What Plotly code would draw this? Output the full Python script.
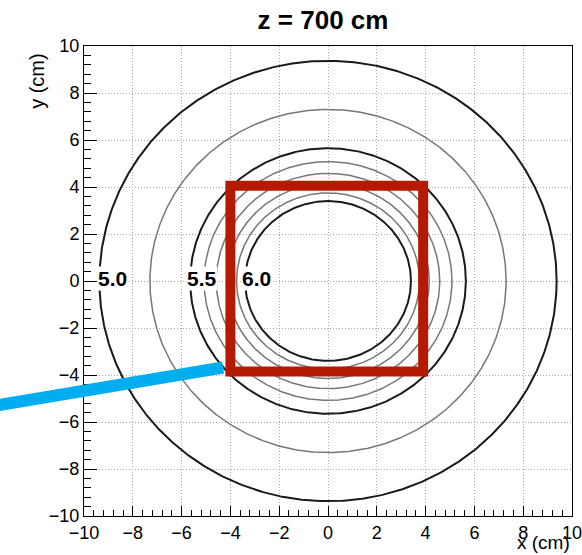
import numpy as np
import plotly.graph_objects as go

# Contour levels and the radius (cm) at which each closes around the axis
levels = [5.0, 5.25, 5.5, 5.6, 5.7, 5.8, 5.9, 6.0]
radii = [9.37, 7.3, 5.65, 5.08, 4.58, 4.15, 3.75, 3.40]
labelled_levels = ["5.0", "5.5", "6.0"]
label_x = [-8.85, -5.15, -2.95]

# Region of interest (cm)
box_x = [-4.0, 3.9]
box_y = [-3.85, 4.05]

tick_vals = [-10, -8, -6, -4, -2, 0, 2, 4, 6, 8, 10]

FONT = "Liberation Sans, Arial, Helvetica, sans-serif"

fig = go.Figure()

theta = np.linspace(0, 2 * np.pi, 721)
for lev, r in zip(levels, radii):
    major = f"{lev:.2f}".rstrip("0").rstrip(".") in ("5", "5.5", "6")
    fig.add_trace(go.Scatter(
        x=r * np.cos(theta), y=r * np.sin(theta),
        mode="lines",
        line=dict(color="#1a1a1a" if major else "#777777",
                  width=2.0 if major else 1.5),
        hoverinfo="skip", showlegend=False,
    ))

for txt, lx in zip(labelled_levels, label_x):
    fig.add_annotation(x=lx, y=0.12, xref="x", yref="y", text=f"<b>{txt}</b>",
                       showarrow=False, bgcolor="white", borderpad=0,
                       font=dict(family=FONT, size=21, color="black"))

# Pointer line toward the region of interest
fig.add_shape(type="line", xref="paper", yref="paper",
              x0=-0.175, y0=0.236, x1=0.285, y1=0.316,
              line=dict(color="#00aeef", width=12), layer="above")

fig.add_shape(type="rect", xref="x", yref="y",
              x0=box_x[0], x1=box_x[1], y0=box_y[0], y1=box_y[1],
              line=dict(color="#b41a00", width=10), layer="above")

axis_common = dict(
    range=[-10, 10], tickvals=tick_vals, ticks="inside",
    showline=True, linecolor="black", linewidth=1, mirror=True,
    showgrid=True, gridcolor="#a8a8a8", griddash="1px,2px", gridwidth=1,
    zeroline=False, tickfont=dict(family=FONT, size=18, color="black"),
    tickcolor="black", tickwidth=1, ticklabeloverflow="allow",
)

fig.update_xaxes(**axis_common, ticklen=10,
                 minor=dict(ticks="inside", ticklen=6, dtick=0.4, tick0=0,
                            tickcolor="black", showgrid=False))
fig.update_yaxes(**axis_common, ticklen=13,
                 minor=dict(ticks="inside", ticklen=7, dtick=0.4, tick0=0,
                            tickcolor="black", showgrid=False))

fig.add_annotation(x=1.0, y=-0.0574, xref="paper", yref="paper",
                   xanchor="right", yanchor="middle", text="x (cm)",
                   showarrow=False, font=dict(family=FONT, size=19, color="black"))
fig.add_annotation(x=-0.096, y=0.99, xref="paper", yref="paper",
                   xanchor="center", yanchor="top", text="y (cm)", textangle=-90,
                   showarrow=False, font=dict(family=FONT, size=20, color="black"))

fig.update_layout(
    width=582, height=555,
    margin=dict(l=84, r=10, t=46, b=39, autoexpand=False),
    paper_bgcolor="white", plot_bgcolor="white",
    title=dict(text="<b>z = 700 cm</b>", x=0.555, xanchor="center",
               y=0.964, yanchor="middle",
               font=dict(family=FONT, size=26, color="black")),
    showlegend=False,
)

fig.write_html("out.html")
